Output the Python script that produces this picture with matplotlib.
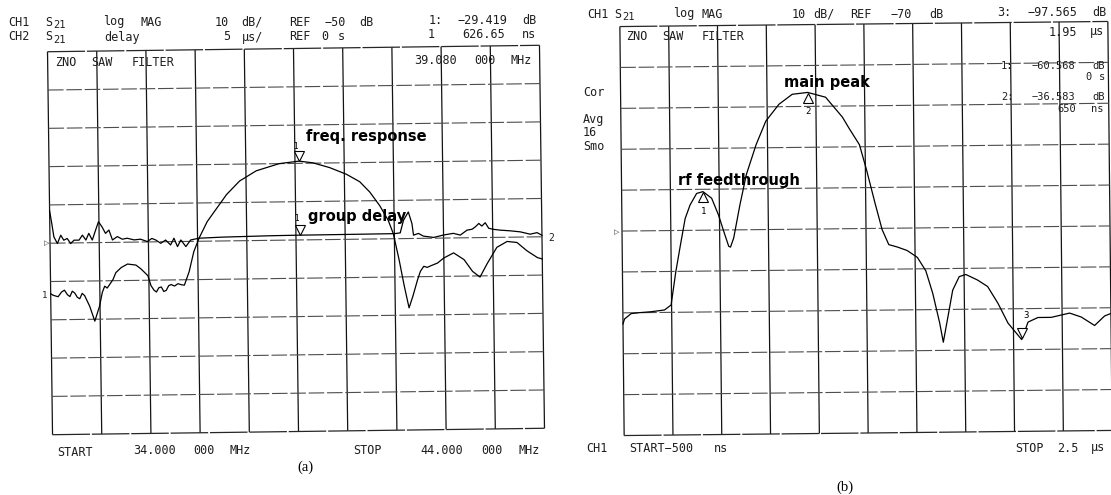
import numpy as np
import matplotlib
matplotlib.use("Agg")
import matplotlib.pyplot as plt
from matplotlib.transforms import Affine2D, ScaledTranslation

W, H = 1111, 495

# ---- (a) swept response, 34 .. 44 MHz ----
# CH1: log magnitude (dB)
freq_mag = [34.0, 34.05, 34.15, 34.22, 34.28, 34.34, 34.39, 34.44, 34.49, 34.54, 34.59,
            34.64, 34.69, 34.79, 34.89, 34.99, 35.05, 35.10, 35.15, 35.20, 35.27, 35.33,
            35.44, 35.57, 35.74, 35.84, 35.98, 36.04, 36.10, 36.15, 36.20, 36.25, 36.30,
            36.35, 36.40, 36.45, 36.52, 36.59, 36.66, 36.72, 36.82, 36.92, 37.03, 37.20,
            37.40, 37.60, 37.87, 38.21, 38.68, 39.08, 39.36, 39.70, 40.04, 40.31, 40.51,
            40.71, 40.88, 40.98, 41.09, 41.19, 41.28, 41.36, 41.46, 41.52, 41.59, 41.66,
            41.73, 41.87, 42.00, 42.20, 42.41, 42.58, 42.73, 42.88, 43.08, 43.29, 43.49,
            43.69, 43.90, 44.0]
mag_db = [-63.2, -63.6, -64.0, -62.8, -62.3, -63.5, -64.0, -62.6, -63.1, -64.2, -64.6,
          -63.2, -63.8, -66.6, -70.5, -66.6, -63.0, -61.4, -61.9, -61.0, -59.7, -57.9,
          -56.6, -55.7, -56.0, -57.0, -58.8, -61.4, -62.6, -63.1, -62.0, -61.8, -63.0,
          -62.7, -61.5, -61.2, -61.6, -61.0, -61.3, -61.4, -57.9, -52.7, -49.2, -44.9,
          -41.4, -37.9, -34.4, -31.8, -30.0, -29.419, -29.9, -31.2, -33.0, -35.0, -37.7,
          -41.3, -45.2, -48.7, -55.5, -62.5, -68.1, -65.1, -60.8, -58.6, -57.3, -57.6,
          -57.2, -56.5, -55.2, -53.9, -55.7, -58.8, -60.3, -56.8, -52.6, -51.1, -51.4,
          -53.6, -55.4, -55.8]

# CH2: group delay (us)
freq_delay = [34.0, 34.04, 34.08, 34.15, 34.22, 34.28, 34.35, 34.42, 34.49, 34.59, 34.66,
              34.73, 34.79, 34.86, 34.93, 34.99, 35.06, 35.13, 35.20, 35.27, 35.37, 35.47,
              35.57, 35.71, 35.84, 35.98, 36.07, 36.15, 36.25, 36.35, 36.45, 36.52, 36.59,
              36.66, 36.76, 36.86, 37.03, 37.50, 38.00, 38.50, 39.08, 39.50, 40.00, 40.50,
              41.00, 41.12, 41.19, 41.29, 41.36, 41.39, 41.49, 41.59, 41.80, 42.00, 42.20,
              42.34, 42.48, 42.58, 42.65, 42.72, 42.78, 42.85, 42.92, 43.02, 43.15, 43.36,
              43.56, 43.76, 43.90, 44.0]
delay_us = [4.2, 2.6, 0.82, -0.05, 1.03, 0.37, 0.59, -0.07, 0.36, 0.35, 1.0,
            0.35, 1.22, 0.34, 1.64, 2.72, 2.06, 1.19, 1.62, 0.32, 0.75, 0.40,
            0.52, 0.29, 0.37, 0.05, 0.45, 0.24, -0.2, 0.22, -0.43, 0.44, -0.66,
            0.2, -0.67, 0.19, 0.40, 0.50, 0.55, 0.60, 0.62665, 0.63, 0.64, 0.65,
            0.66, 0.75, 2.4, 3.47, 1.96, 0.43, 0.65, 0.29, 0.10, 0.40, 0.60,
            0.36, 1.0, 1.1, 1.42, 1.85, 1.5, 1.93, 1.2, 1.05, 0.94, 0.83,
            0.68, 0.36, 0.55, 0.2]

# ---- (b) time-domain response, -0.5 .. 2.5 us ----
t_us = [-0.5, -0.49, -0.449, -0.40, -0.326, -0.244, -0.203, -0.172, -0.142, -0.111,
        -0.080, -0.039, 0.0, 0.053, 0.094, 0.125, 0.155, 0.166, 0.186, 0.227, 0.268,
        0.330, 0.391, 0.473, 0.555, 0.65, 0.760, 0.862, 0.903, 0.965, 1.006, 1.057,
        1.099, 1.139, 1.191, 1.252, 1.314, 1.365, 1.406, 1.447, 1.468, 1.498, 1.529,
        1.570, 1.611, 1.683, 1.744, 1.806, 1.867, 1.95, 1.990, 2.051, 2.133, 2.246,
        2.318, 2.399, 2.461, 2.5]
td_db = [-92.7, -91.5, -90.2, -90.0, -89.8, -89.4, -88.2, -80.1, -73.6, -67.1,
         -63.8, -61.0, -60.568, -62.2, -66.3, -70.3, -74.0, -74.2, -72.0, -63.8, -56.5,
         -49.2, -43.5, -39.4, -37.0, -36.583, -37.8, -42.7, -45.5, -49.5, -55.5, -63.8,
         -70.3, -74.0, -74.6, -75.5, -77.2, -80.5, -86.0, -93.3, -98.0, -91.8, -85.3,
         -82.0, -81.5, -82.9, -84.5, -88.6, -93.5, -97.565, -93.3, -92.2, -92.2, -91.2,
         -92.2, -94.3, -92.0, -91.4]

MARK_A = (39.08, -29.419, 0.62665)
MARKS_B = [(0.0, -60.568, "1"), (0.65, -36.583, "2"), (1.95, -97.565, "3")]

plt.rcParams["font.family"] = ["DejaVu Sans Mono", "DejaVu Sans"]

fig = plt.figure(figsize=(W / 100, H / 100), dpi=100)
fig.patch.set_facecolor("white")

TXT = dict(fontsize=8.5, color="#1e1e1e")
LBL = dict(fontsize=10.5, fontweight="bold", family="DejaVu Sans", color="black")


def ftext(x, y, s, ha="left", **kw):
    style = dict(TXT)
    style.update(kw)
    fig.text(x / W, 1 - y / H, s, ha=ha, va="center", **style)


def spread(x0, x1, y, phrase, **kw):
    # the analyser's plotter font is wider than any mono face here, so spread
    # the words of a phrase over its printed extent
    n = len(phrase)
    pos = 0
    for word in phrase.split(" "):
        if word:
            c = x0 + (pos + len(word) / 2) / n * (x1 - x0)
            ftext(c, y, word, ha="center", **kw)
        pos += len(word) + 1


def s21(x, y):
    ftext(x, y, "S")
    ftext(x + 8, y + 3, "21", fontsize=7.5)


def make_panel(left, top, right, bottom, xlim, ylim):
    ax = fig.add_axes([left / W, 1 - bottom / H, (right - left) / W, (bottom - top) / H])
    ax.set_xlim(xlim)
    ax.set_ylim(ylim)
    ax.axis("off")
    for x in np.linspace(xlim[0], xlim[1], 11):
        ax.plot([x, x], ylim, color="0.08", lw=0.9, solid_capstyle="butt")
    for i, y in enumerate(np.linspace(ylim[0], ylim[1], 11)):
        if i in (0, 10):
            ax.plot(xlim, [y, y], color="0.15", lw=0.9, dashes=(30, 1.5))
        else:
            ax.plot(xlim, [y, y], color="0.3", lw=0.8, dashes=(14, 2.5))
    return ax


def offset(dx, dy):
    return ScaledTranslation(dx / 72, dy / 72, fig.dpi_scale_trans)


def marker(ax, x, y, down, dy):
    ax.plot([x], [y], marker="v" if down else "^", ms=7.5, mfc="white", mec="black",
            mew=0.8, transform=ax.transData + offset(0, dy))


def tilt(axes, deg):
    # the plotted screen is slightly rotated; rotate every artist about the panel centre
    b = axes[0].get_position()
    cx = (b.x0 + b.width / 2) * fig.bbox.width
    cy = (b.y0 + b.height / 2) * fig.bbox.height
    rot = Affine2D().rotate_deg_around(cx, cy, deg)
    for ax in axes:
        for art in list(ax.lines) + list(ax.texts):
            art.set_transform(art.get_transform() + rot)
            art.set_clip_on(False)


# ---------------- panel (a) ----------------
ax_a = make_panel(50, 48.5, 542, 431.5, (34, 44), (-100, 0))
ax_d = fig.add_axes(ax_a.get_position())
ax_d.set_xlim(34, 44)
ax_d.set_ylim(-25, 25)
ax_d.axis("off")

ax_a.plot(freq_mag, mag_db, color="black", lw=0.9)
ax_d.plot(freq_delay, delay_us, color="black", lw=0.9)

fa, ma, da = MARK_A
marker(ax_a, fa, ma, True, 4)
ax_a.text(fa, ma, "1", fontsize=5.5, ha="right", va="center",
          transform=ax_a.transData + offset(-1, 10.5))
ax_a.text(fa, ma, "freq. response", ha="left", va="center",
          transform=ax_a.transData + offset(5, 18), **LBL)
marker(ax_d, fa, da, True, 4)
ax_d.text(fa, da, "1", fontsize=5.5, ha="right", va="center",
          transform=ax_d.transData + offset(-1, 12))
ax_d.text(fa, da, "group delay", ha="left", va="center",
          transform=ax_d.transData + offset(6, 13), **LBL)

tilt([ax_a, ax_d], 0.75)

ftext(19, 22, "CH1", ha="center")
s21(45, 22)
spread(100, 165, 22, "log MAG")
spread(213, 265, 22, "10 dB/")
spread(287, 375, 22, "REF \u221250 dB")
spread(427, 538, 21, "1: \u221229.419 dB")
ftext(19, 37, "CH2", ha="center")
s21(45, 37)
ftext(122, 37, "delay", ha="center")
spread(222, 265, 37, "5 \u00b5s/")
spread(287, 346, 37, "REF 0 s")
ftext(431, 35, "1", ha="center")
spread(457, 538, 35, "626.65 ns")
spread(52, 180, 62, "ZNO SAW FILTER")
spread(408, 535, 60, "39.080 000 MHz")
ftext(44, 243, "\u25b7", fontsize=5, family="DejaVu Sans")
ftext(42, 296, "1", fontsize=6.5)
ftext(548, 238, "2", fontsize=7)
ftext(75, 452, "START", ha="center")
spread(127, 254, 451, "34.000 000 MHz")
ftext(368, 450, "STOP", ha="center")
spread(414, 543, 450, "44.000 000 MHz")
fig.text(305 / W, 1 - 467 / H, "(a)", ha="center", va="center",
         family="Liberation Serif", fontsize=10.5)

# ---------------- panel (b) ----------------
ax_b = make_panel(622, 24, 1110, 433, (-0.5, 2.5), (-120, -20))
ax_b.plot(t_us, td_db, color="black", lw=0.9)

for t, v, num in MARKS_B:
    if num == "3":
        marker(ax_b, t, v, True, 5)
        ax_b.text(t, v, num, fontsize=6.5, ha="center", va="center",
                  transform=ax_b.transData + offset(3, 17))
    else:
        marker(ax_b, t, v, False, -4)
        ax_b.text(t, v, num, fontsize=6.5, ha="center", va="center",
                  transform=ax_b.transData + offset(0, -14))
t1, v1, _ = MARKS_B[0]
t2, v2, _ = MARKS_B[1]
ax_b.text(t1, v1, "rf feedthrough", ha="left", va="center",
          transform=ax_b.transData + offset(-18, 8), **LBL)
ax_b.text(t2, v2, "main peak", ha="left", va="center",
          transform=ax_b.transData + offset(-17, 7.5), **LBL)

tilt([ax_b], 0.6)

ftext(598, 14, "CH1", ha="center")
s21(614, 14)
spread(673, 723, 14, "log MAG")
spread(792, 835, 14, "10 dB/")
spread(846, 946, 14, "REF \u221270 dB")
spread(996, 1108, 13, "3: \u221297.565 dB")
spread(623, 750, 37, "ZNO SAW FILTER")
spread(1045, 1106, 32, "1.95 \u00b5s")
# marker readouts are stacked tightly on the screen
spread(999, 1107, 66, "1: \u221260.568 dB", fontsize=7.5)
spread(1085, 1106, 77.5, "0 s", fontsize=7.5)
spread(999, 1107, 97, "2: \u221236.583 dB", fontsize=7.5)
spread(1054, 1106, 108.5, "650 ns", fontsize=7.5)
ftext(583, 92, "Cor")
ftext(583, 120, "Avg")
ftext(583, 133, "16")
ftext(583, 146, "Smo")
ftext(614, 232, "\u25b7", fontsize=5, family="DejaVu Sans")
spread(583, 730, 448, "CH1 START\u2212500 ns")
spread(1012, 1107, 448, "STOP 2.5 \u00b5s")
fig.text(845 / W, 1 - 487 / H, "(b)", ha="center", va="center",
         family="Liberation Serif", fontsize=10.5)

fig.savefig("out.png", dpi=100, facecolor="white")
